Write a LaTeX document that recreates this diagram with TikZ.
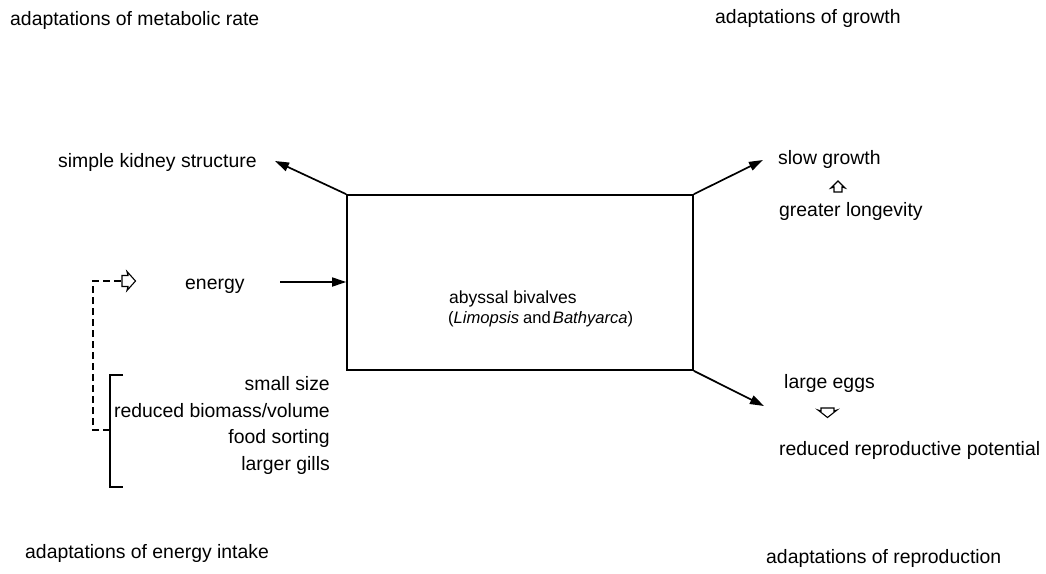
\documentclass[tikz,border=0pt]{standalone}
\usepackage{fontspec}
\setmainfont{Liberation Sans}
\usetikzlibrary{arrows.meta}
\begin{document}
\begin{tikzpicture}[x=1pt,y=-1pt,
  lbl/.style={inner sep=0pt,font=\fontsize{19.4}{23}\selectfont},
  boxlbl/.style={inner sep=0pt,anchor=base west,font=\fontsize{17.5}{21}\selectfont},
  lw/.style={lbl,anchor=base west},
  le/.style={lbl,anchor=base east},
  conn/.style={line width=1.7pt,-{Triangle[length=14pt,width=9pt]}},
  openarr/.style={draw,line width=1.1pt,fill=white,line join=miter},
  dashline/.style={line width=1.6pt,dash pattern=on 7pt off 4pt},
  brk/.style={line width=1.6pt}]
\useasboundingbox (0,0) rectangle (1046,573);
% corner headings
\node[lw] (hm) at (10,25) {adaptations of metabolic rate};
\node[lw] (hg) at (715,23) {adaptations of growth};
\node[lw] (he) at (25,558) {adaptations of energy intake};
\node[lw] (hr) at (766,563) {adaptations of reproduction};
% central box
\node[draw,line width=1.7pt,minimum width=346pt,minimum height=175pt,inner sep=0pt] (box) at (520,282.5) {};
\node[boxlbl] (t1) at (449,303) {abyssal bivalves};
\node[boxlbl,font=\fontsize{16.6}{21}\selectfont] (t2) at (448,323) {(\textit{Limopsis}\hspace{4pt}and\hspace{2pt}\textit{Bathyarca})};
% labels
\node[lw] (kid) at (58,167) {simple kidney structure};
\node[lw] (slow) at (778,164) {slow growth};
\node[lw] (long) at (779,216) {greater longevity};
\node[lw] (en) at (185,289) {energy};
\node[le] (s1) at (330,390) {small size};
\node[le] (s2) at (330,417) {reduced biomass/volume};
\node[le] (s3) at (330,443) {food sorting};
\node[le] (s4) at (330,470) {larger gills};
\node[lw] (egg) at (784,388) {large eggs};
\node[lw] (rrp) at (779,455) {reduced reproductive potential};
% connectors
\coordinate (kidtip) at (275,161);
\coordinate (slowtip) at (763,160);
\coordinate (eggtip) at (764,406);
\coordinate (enstart) at (280,282);
\draw[conn] (box.north west) -- (kidtip);
\draw[conn] (box.north east) -- (slowtip);
\draw[conn] (box.south east) -- (eggtip);
\draw[conn] (enstart) -- (box.west |- enstart);
% bracket
\coordinate (bt) at (110,375);
\coordinate (bb) at (110,487);
\coordinate (bm) at (110,430);
\draw[brk] (123,375) -- (bt) -- (bb) -- (123,487);
% dashed feedback
\coordinate (dc) at (93,281);
\coordinate (ra) at (122,281);
\draw[dashline] (bm) -- (93,430) -- (dc) -- (ra);
% open arrows
\draw[openarr] (122,275.5) -- (128,275.5) -- (127,271.5) -- (135.5,281) -- (127,290.5) -- (128,286.5) -- (122,286.5) -- cycle;
\draw[openarr] (834,192) -- (834,187) -- (831,188) -- (838,181) -- (845,188) -- (842,187) -- (842,192) -- cycle;
\draw[openarr] (821,408) -- (834,408) -- (834,411) -- (837,410) -- (827.5,417.5) -- (818,410) -- (821,411) -- cycle;
\end{tikzpicture}
\end{document}
